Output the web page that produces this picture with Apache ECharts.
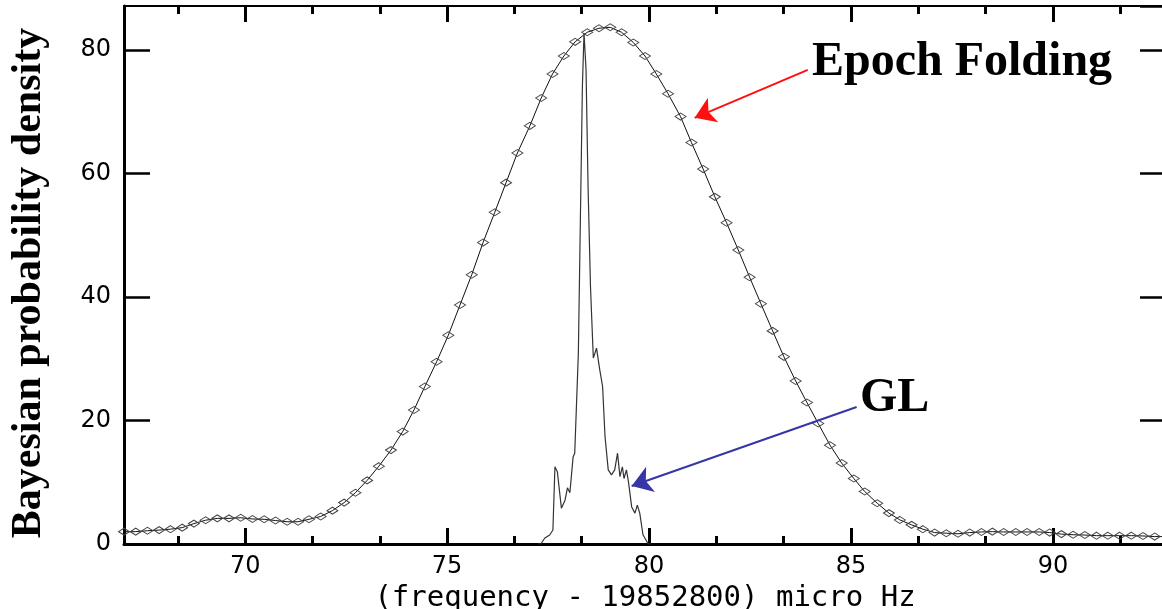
<!DOCTYPE html>
<html>
<head>
<meta charset="utf-8">
<script src="https://cdn.jsdelivr.net/npm/echarts@6/dist/echarts.min.js"></script>
<style>
html,body{margin:0;padding:0;background:#fff;}
#chart{width:1162px;height:609px;}
</style>
</head>
<body>
<div id="chart"></div>
<script>
// Epoch Folding curve (frequency offset in micro Hz, density)
var epochX = [67.00, 67.29, 67.58, 67.87, 68.15, 68.44, 68.73, 69.02, 69.31, 69.60,
  69.89, 70.18, 70.47, 70.75, 71.04, 71.31, 71.58, 71.87, 72.16, 72.45,
  72.73, 73.02, 73.31, 73.61, 73.90, 74.18, 74.45, 74.74, 75.03, 75.32,
  75.61, 75.89, 76.18, 76.46, 76.74, 77.05, 77.33, 77.61, 77.89, 78.17,
  78.47, 78.76, 79.04, 79.32, 79.61, 79.90, 80.18, 80.47, 80.78, 81.05,
  81.34, 81.63, 81.92, 82.21, 82.49, 82.77, 83.06, 83.34, 83.63, 83.91,
  84.19, 84.48, 84.77, 85.07, 85.34, 85.65, 85.94, 86.21, 86.50, 86.78,
  87.07, 87.36, 87.65, 87.94, 88.23, 88.50, 88.78, 89.08, 89.36, 89.66,
  89.92, 90.21, 90.50, 90.79, 91.08, 91.36, 91.65, 91.94, 92.23, 92.52, 92.81];
var epochY = [2.0, 2.0, 2.15, 2.25, 2.4, 2.65, 3.3, 3.85, 4.15, 4.15,
  4.25, 4.05, 4.0, 3.8, 3.6, 3.6, 4.0, 4.45, 5.4, 6.7,
  8.3, 10.3, 12.6, 15.2, 18.2, 21.7, 25.5, 29.5, 33.8, 38.7,
  43.6, 48.8, 53.7, 58.5, 63.3, 67.7, 72.2, 76.1, 79.0, 81.3,
  82.85, 83.5, 83.65, 82.85, 81.2, 79.0, 76.1, 72.9, 69.2, 65.0,
  60.7, 56.2, 52.0, 47.6, 43.2, 38.9, 34.5, 30.3, 26.4, 22.9,
  19.5, 16.0, 13.1, 10.6, 8.5, 6.6, 5.0, 3.9, 3.1, 2.4,
  1.85, 1.75, 1.65, 1.85, 1.95, 2.0, 1.95, 1.95, 1.95, 1.95,
  1.85, 1.6, 1.5, 1.45, 1.35, 1.35, 1.35, 1.35, 1.3, 1.2, 1.2];

// GL curve
var glX = [77.25, 77.32, 77.42, 77.54, 77.62, 77.67, 77.73, 77.83, 77.92, 77.98,
  78.04, 78.12, 78.16, 78.25, 78.30, 78.35, 78.39, 78.44, 78.49, 78.55,
  78.62, 78.70, 78.78, 78.85, 78.91, 78.99, 79.07, 79.15, 79.22, 79.28,
  79.34, 79.38, 79.44, 79.49, 79.57, 79.65, 79.71, 79.77, 79.85, 79.98, 80.05];
var glY = [0, 0, 0.97, 1.46, 2.27, 12.5, 11.7, 5.8, 7.1, 9.1,
  8.3, 14.1, 14.7, 30.9, 52.5, 74.1, 82.7, 76.8, 57.9, 41.7,
  30.1, 31.7, 28.2, 25.5, 17.4, 12.0, 11.2, 12.0, 14.7, 10.9,
  12.5, 10.6, 12.0, 10.1, 6.0, 5.0, 6.3, 5.0, 1.5, 0, 0];

// Annotation arrows (data coordinates): [startX, startY, endX, endY]
var epochArrow = [83.93, 76.76, 81.13, 68.99];
var glArrow = [85.14, 22.19, 79.57, 9.39];

var xName = '(frequency - 19852800) micro Hz';
var yName = 'Bayesian probability density';
var epochLabel = 'Epoch Folding';
var glLabel = 'GL';

function pairs(xs, ys) {
  var out = [];
  for (var i = 0; i < xs.length; i++) out.push([xs[i], ys[i]]);
  return out;
}

var chart = echarts.init(document.getElementById('chart'), null, {renderer: 'canvas'});

var xBase = {
  type: 'value', min: 67, max: 92.8, splitNumber: 5,
  splitLine: {show: false},
  axisLine: {show: true, onZero: false, lineStyle: {color: '#000', width: 3}},
  axisTick: {show: true, inside: true, length: 16, lineStyle: {color: '#000', width: 3}},
  minorTick: {show: true, splitNumber: 3, length: 8, lineStyle: {color: '#000', width: 3}}
};

var option = {
  backgroundColor: '#fff',
  animation: false,
  grid: {left: 124, right: -4, top: 6, bottom: 65, outerBoundsMode: 'none', containLabel: false},
  xAxis: [
    Object.assign({}, xBase, {
      position: 'bottom',
      name: xName, nameLocation: 'middle', nameGap: 39,
      nameTextStyle: {fontFamily: 'DejaVu Sans Mono', fontSize: 29, color: '#000'},
      axisLabel: {show: true, margin: 11, fontFamily: 'DejaVu Sans', fontSize: 24, color: '#000',
        showMinLabel: false, showMaxLabel: false}
    }),
    Object.assign({}, xBase, {
      position: 'top',
      axisLine: {show: true, onZero: false, lineStyle: {color: '#000', width: 2}},
      axisLabel: {show: false}
    })
  ],
  yAxis: [
    {
      type: 'value', min: 0, max: 87.1, interval: 20, position: 'left',
      name: yName, nameLocation: 'middle', nameGap: 74,
      nameTextStyle: {fontFamily: 'Liberation Serif', fontWeight: 'bold', fontSize: 42, color: '#000',
        padding: [0, 16, 0, 0]},
      splitLine: {show: false},
      axisLine: {show: true, onZero: false, lineStyle: {color: '#000', width: 3}},
      axisTick: {show: true, inside: true, length: 26, lineStyle: {color: '#000', width: 2.5}},
      axisLabel: {show: true, margin: 13, fontFamily: 'DejaVu Sans', fontSize: 24, color: '#000',
        showMaxLabel: false}
    },
    {
      type: 'value', min: 0, max: 87.1, interval: 20, position: 'right',
      splitLine: {show: false},
      axisLine: {show: true, onZero: false, lineStyle: {color: '#000', width: 3}},
      axisTick: {show: true, inside: true, length: 26, lineStyle: {color: '#000', width: 2.5}},
      axisLabel: {show: false}
    }
  ],
  series: [
    {
      name: epochLabel, type: 'line', xAxisIndex: 0, yAxisIndex: 0,
      data: pairs(epochX, epochY),
      symbol: 'diamond', symbolSize: [11, 7], showAllSymbol: true,
      lineStyle: {color: '#111', width: 1},
      itemStyle: {color: 'rgba(255,255,255,0)', borderColor: '#444', borderWidth: 1},
      emphasis: {disabled: true},
      z: 2
    },
    {
      name: glLabel, type: 'line', xAxisIndex: 0, yAxisIndex: 0,
      data: pairs(glX, glY),
      symbol: 'none',
      lineStyle: {color: '#333', width: 1.2},
      emphasis: {disabled: true},
      z: 3,
      markLine: {
        silent: true, animation: false,
        symbol: ['none', 'arrow'], symbolSize: 20,
        label: {show: false},
        data: [
          [{coord: [epochArrow[0], epochArrow[1]], lineStyle: {color: '#ff1010', width: 2, type: 'solid'}, itemStyle: {color: '#ff1010'}},
           {coord: [epochArrow[2], epochArrow[3]]}],
          [{coord: [glArrow[0], glArrow[1]], lineStyle: {color: '#3636a6', width: 2, type: 'solid'}, itemStyle: {color: '#3636a6'}},
           {coord: [glArrow[2], glArrow[3]]}]
        ]
      }
    }
  ],
  graphic: [
    {type: 'text', x: 812, y: 63, z: 10,
      style: {text: epochLabel, font: 'bold 48px "Liberation Serif"', fill: '#000', verticalAlign: 'middle', align: 'left'}},
    {type: 'text', x: 860, y: 399, z: 10,
      style: {text: glLabel, font: 'bold 48px "Liberation Serif"', fill: '#000', verticalAlign: 'middle', align: 'left'}}
  ]
};
chart.setOption(option);
</script>
</body>
</html>
